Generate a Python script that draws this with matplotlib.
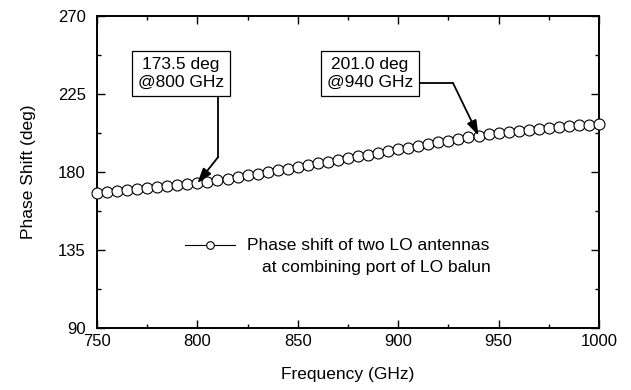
import matplotlib
matplotlib.use("Agg")
import matplotlib.pyplot as plt
from matplotlib.ticker import MultipleLocator

# Simulated phase shift between the two LO antennas at the balun combining port
freq_ghz = [750, 755, 760, 765, 770, 775, 780, 785, 790, 795,
            800, 805, 810, 815, 820, 825, 830, 835, 840, 845,
            850, 855, 860, 865, 870, 875, 880, 885, 890, 895,
            900, 905, 910, 915, 920, 925, 930, 935, 940, 945,
            950, 955, 960, 965, 970, 975, 980, 985, 990, 995, 1000]
phase_deg = [168.0, 168.5, 169.0, 169.5, 170.0, 170.6, 171.2, 171.8, 172.4, 172.9,
             173.5, 174.4, 175.3, 176.2, 177.1, 178.0, 179.0, 180.0, 181.0, 182.0,
             183.0, 184.0, 185.0, 186.0, 187.0, 188.0, 189.0, 190.0, 191.0, 192.0,
             193.1, 194.1, 195.1, 196.1, 197.1, 198.1, 199.1, 200.1, 201.0, 201.7,
             202.3, 202.9, 203.5, 204.1, 204.7, 205.3, 205.9, 206.4, 206.9, 207.4, 207.9]

x_ticks = [750, 800, 850, 900, 950, 1000]
y_ticks = [90, 135, 180, 225, 270]

# Marked points called out on the curve
callouts = [(800, "173.5 deg\n@800 GHz"), (940, "201.0 deg\n@940 GHz")]

plt.rcParams["font.family"] = ["Liberation Sans", "DejaVu Sans"]
FS = 12.5

fig = plt.figure(figsize=(6.31, 3.90), dpi=100)
ax = fig.add_axes([97 / 631, 62 / 390, 502 / 631, 312 / 390])

ax.plot(freq_ghz, phase_deg, color="black", lw=0.8, marker="o", ms=7.9,
        mfc="white", mec="black", mew=0.8, clip_on=False, zorder=3)

ax.set_xlim(750, 1000)
ax.set_ylim(90, 270)
ax.set_xticks(x_ticks)
ax.set_yticks(y_ticks)
ax.xaxis.set_minor_locator(MultipleLocator(25))
ax.yaxis.set_minor_locator(MultipleLocator(22.5))
ax.tick_params(which="both", direction="in", top=True, right=True, width=1.0)
ax.tick_params(which="major", length=6)
ax.tick_params(which="minor", length=3)
ax.tick_params(axis="x", which="major", labelsize=12, pad=4)
ax.tick_params(axis="y", which="major", labelsize=12, pad=8)
for s in ax.spines.values():
    s.set_linewidth(1.4)

ax.set_xlabel("Frequency (GHz)", fontsize=FS, labelpad=13)
ax.set_ylabel("Phase Shift (deg)", fontsize=FS, labelpad=16)

lookup = dict(zip(freq_ghz, phase_deg))
box = dict(boxstyle="square,pad=0.35", fc="white", ec="black", lw=0.9)
arrow = dict(arrowstyle="-|>,head_length=0.9,head_width=0.3", color="black",
             lw=1.3, shrinkA=0, shrinkB=0)

# First callout: box, vertical leader, then an angled arrow to the point
f1, t1 = callouts[0]
ax.text(0.167, 0.816, t1, transform=ax.transAxes, ha="center", va="center",
        fontsize=FS, linespacing=1.2, bbox=box, zorder=5)
ax.plot([810.3, 810.3], [222.7, 188.6], color="black", lw=1.3, zorder=4)
ax.annotate("", xy=(f1, lookup[f1]), xytext=(810.3, 188.6), arrowprops=arrow, zorder=4)

# Second callout: box, horizontal leader, then an angled arrow to the point
f2, t2 = callouts[1]
ax.text(0.544, 0.816, t2, transform=ax.transAxes, ha="center", va="center",
        fontsize=FS, linespacing=1.2, bbox=box, zorder=5)
ax.plot([908.9, 927.3], [231.3, 231.3], color="black", lw=1.3, zorder=4)
ax.annotate("", xy=(f2, lookup[f2]), xytext=(927.3, 231.3), arrowprops=arrow, zorder=4)

# Legend entry drawn by hand so the symbol sits on the first text line
ax.plot([0.175, 0.275], [0.265, 0.265], transform=ax.transAxes, color="black",
        lw=0.8, clip_on=False)
ax.plot([0.225], [0.265], transform=ax.transAxes, marker="o", ms=5.5,
        mfc="white", mec="black", mew=0.8, clip_on=False)
ax.text(0.298, 0.265, "Phase shift of two LO antennas", transform=ax.transAxes,
        ha="left", va="center", fontsize=FS)
ax.text(0.328, 0.195, "at combining port of LO balun", transform=ax.transAxes,
        ha="left", va="center", fontsize=FS)

fig.savefig("out.png", dpi=100)
